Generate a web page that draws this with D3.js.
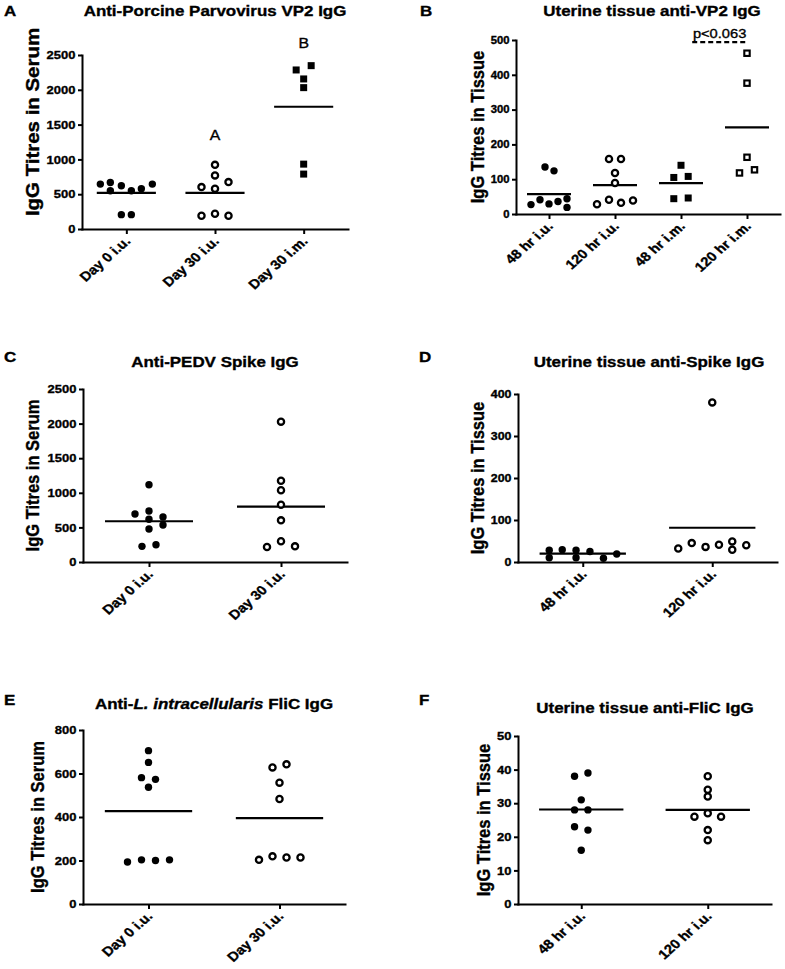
<!DOCTYPE html>
<html>
<head>
<meta charset="utf-8">
<script src="https://cdn.jsdelivr.net/npm/d3@7"></script>
<style>
  body { margin: 0; background: #fff; }
  text { font-family: "Liberation Sans", Arial, sans-serif; fill: #000; stroke: #000; stroke-width: 0.35px; }
</style>
</head>
<body>
<svg id="fig"></svg>
<script>
// ---- data ----
// slots = horizontal spread of each point around its column (in spread units)

const catsA = ["Day 0 i.u.", "Day 30 i.u.", "Day 30 i.m."];
const valsA = [
  [645, 669, 550, 621, 550, 578, 645, 206, 206],
  [922, 770, 602, 578, 674, 191, 220, 191],
  [2285, 2347, 2156, 2031, 932, 789]
];
const slotsA = [
  [-2.6, -1.6, -1.6, -0.5, 0.5, 1.5, 2.6, -0.5, 0.5],
  [0, 0, -1.35, 0, 1.35, -1.35, 0, 1.35],
  [-0.75, 0.75, 0, 0, 0, 0]
];
const ticksA = [0, 500, 1000, 1500, 2000, 2500];
const sigA = [{ cat: "Day 30 i.u.", label: "A", at: 1280 }, { cat: "Day 30 i.m.", label: "B", at: 2600 }];

const catsB = ["48 hr i.u.", "120 hr i.u.", "48 hr i.m.", "120 hr i.m."];
const valsB = [
  [135, 124, 27, 41, 29, 36, 44, 19],
  [158, 158, 118, 89, 28, 41, 32, 39],
  [140, 105, 108, 44, 46],
  [462, 376, 163, 118, 127]
];
const slotsB = [
  [-0.4, 0.5, -1.8, -0.9, 0, 0.9, 1.8, 1.8],
  [-0.6, 0.6, 0, 0, -1.8, -0.6, 0.6, 1.8],
  [0, -0.72, 0.72, -0.72, 0.72],
  [0, 0, 0, -0.75, 0.75]
];
const ticksB = [0, 100, 200, 300, 400, 500];
const pvalB = { from: "48 hr i.m.", to: "120 hr i.m.", label: "p<0.063", at: 494 };

const catsC = ["Day 0 i.u.", "Day 30 i.u."];
const valsC = [
  [1117, 694, 737, 617, 650, 535, 477, 226, 250],
  [2028, 1175, 1036, 829, 602, 299, 217, 226]
];
const slotsC = [
  [0, -1.4, 0, 0, 1.4, 1.4, 0, -0.7, 0.7],
  [0, 0, 0, 0, 0, 0, -1.4, 1.4]
];
const ticksC = [0, 500, 1000, 1500, 2000, 2500];

const catsD = ["48 hr i.u.", "120 hr i.u."];
const valsD = [
  [28, 29, 28, 25, 10, 10, 9, 19],
  [380, 32, 45, 36, 41, 49, 29, 40]
];
const slotsD = [
  [-3.35, -2.05, -0.67, 0.72, -3.35, -0.67, 2.07, 3.4],
  [0, -3.4, -2.05, -0.67, 0.67, 2.0, 2.0, 3.4]
];
const ticksD = [0, 100, 200, 300, 400];

const catsE = ["Day 0 i.u.", "Day 30 i.u."];
const valsE = [
  [705, 651, 581, 573, 537, 193, 203, 200, 203],
  [628, 642, 558, 483, 203, 219, 214, 214]
];
const slotsE = [
  [0, 0, -0.7, 0.7, 0, -2.1, -0.7, 0.7, 2.1],
  [-0.7, 0.7, 0, 0, -2.05, -0.7, 0.7, 2.1]
];
const ticksE = [0, 200, 400, 600, 800];

const catsF = ["48 hr i.u.", "120 hr i.u."];
const valsF = [
  [38, 39, 31, 28, 28, 23, 22, 16],
  [38, 34, 32, 26, 27, 26, 22, 19]
];
const slotsF = [
  [-0.67, 0.67, 0, -0.67, 0.67, -0.67, 0.67, 0],
  [0, 0, 0, -1.33, 0, 1.33, 0, 0]
];
const ticksF = [0, 10, 20, 30, 40, 50];

// ---- layout ----
const width = 785;
const height = 969;
const SX = 1.13;   // the source figure was scaled wider than tall

const svg = d3.select("#fig")
    .attr("width", width)
    .attr("height", height);

svg.append("rect").attr("width", width).attr("height", height).attr("fill", "#fff");

const panels = [
  { letter: "A", lx: 4, ly: 16, title: ["Anti-Porcine Parvovirus VP2 IgG"], tx: 215, ty: 16,
    x0: 82, x1: 348, yTop: 55, yBot: 229, cats: catsA, vals: valsA, slots: slotsA, ticks: ticksA,
    marks: ["dot", "ring", "square"], ylab: "IgG Titres in Serum", ylOff: 43, ylCy: 122, ylLong: 1.24,
    tickFont: 11.5, spread: 10 },
  { letter: "B", lx: 420, ly: 16, title: ["Uterine tissue anti-VP2 IgG"], tx: 652, ty: 16,
    x0: 516, x1: 780, yTop: 40, yBot: 214, cats: catsB, vals: valsB, slots: slotsB, ticks: ticksB,
    marks: ["dot", "ring", "square", "box"], ylab: "IgG Titres in Tissue", ylOff: 32,
    tickFont: 10, spread: 10 },
  { letter: "C", lx: 4, ly: 362, title: ["Anti-PEDV Spike IgG"], tx: 215, ty: 367,
    x0: 83, x1: 347, yTop: 389, yBot: 562, cats: catsC, vals: valsC, slots: slotsC, ticks: ticksC,
    marks: ["dot", "ring"], ylab: "IgG Titres in Serum", ylOff: 44, tickFont: 11.5, spread: 10 },
  { letter: "D", lx: 419, ly: 362, title: ["Uterine tissue anti-Spike IgG"], tx: 649, ty: 367,
    x0: 518, x1: 777, yTop: 394, yBot: 562, cats: catsD, vals: valsD, slots: slotsD, ticks: ticksD,
    marks: ["dot", "ring"], ylab: "IgG Titres in Tissue", ylOff: 34, tickFont: 11, spread: 10 },
  { letter: "E", lx: 4, ly: 705, title: ["Anti-", "L. intracellularis", " FliC IgG"], tx: 214, ty: 709,
    x0: 83, x1: 345, yTop: 730, yBot: 904, cats: catsE, vals: valsE, slots: slotsE, ticks: ticksE,
    marks: ["dot", "ring"], ylab: "IgG Titres in Serum", ylOff: 39, tickFont: 11.5, spread: 10 },
  { letter: "F", lx: 419, ly: 705, title: ["Uterine tissue anti-FliC IgG"], tx: 645, ty: 713,
    x0: 518, x1: 771, yTop: 736, yBot: 904, cats: catsF, vals: valsF, slots: slotsF, ticks: ticksF,
    marks: ["dot", "ring"], ylab: "IgG Titres in Tissue", ylOff: 28, tickFont: 11.5, spread: 10 }
];

// text is drawn at (x, y), widened by SX, then rotated
function tf(x, y, rot) {
  return `translate(${x},${y}) scale(${SX},1)` + (rot ? ` rotate(${rot})` : "");
}

function drawMark(g, type, cx, cy) {
  if (type === "dot") {
    g.append("circle").attr("cx", cx).attr("cy", cy).attr("r", 3.7).attr("fill", "#000");
  } else if (type === "ring") {
    g.append("circle").attr("cx", cx).attr("cy", cy).attr("r", 3.1)
      .attr("fill", "#fff").attr("stroke", "#000").attr("stroke-width", 2.3);
  } else if (type === "square") {
    g.append("rect").attr("x", cx - 3.5).attr("y", cy - 3.5).attr("width", 7).attr("height", 7).attr("fill", "#000");
  } else {
    g.append("rect").attr("x", cx - 2.7).attr("y", cy - 2.7).attr("width", 5.4).attr("height", 5.4)
      .attr("fill", "#fff").attr("stroke", "#000").attr("stroke-width", 2.1);
  }
}

panels.forEach(p => {
  const g = svg.append("g");
  const x = d3.scalePoint().domain(p.cats).range([p.x0, p.x1]).padding(0.5);
  const y = d3.scaleLinear().domain([0, d3.max(p.ticks)]).range([p.yBot, p.yTop]);
  p.x = x; p.y = y; p.g = g;

  // panel letter
  g.append("text").attr("transform", tf(p.lx, p.ly))
    .attr("font-size", 15).attr("font-weight", "bold").text(p.letter);

  // title (E has an italic part)
  const t = g.append("text").attr("transform", tf(p.tx, p.ty))
    .attr("text-anchor", "middle").attr("font-size", 15).attr("font-weight", "bold");
  p.title.forEach((s, i) => {
    t.append("tspan").attr("font-style", i === 1 ? "italic" : "normal").text(s);
  });

  // y axis
  const ya = g.append("g").attr("transform", `translate(${p.x0},0)`)
    .call(d3.axisLeft(y).tickValues(p.ticks).tickFormat(d3.format("d"))
      .tickSize(4).tickSizeOuter(0).tickPadding(2));
  ya.select(".domain").attr("stroke-width", 2).attr("stroke-linecap", "square");
  ya.selectAll(".tick line").attr("stroke-width", 2);
  ya.selectAll(".tick text")
    .attr("font-family", "Liberation Sans, Arial, sans-serif")
    .attr("font-size", p.tickFont).attr("font-weight", "bold").attr("fill", "#000")
    .attr("x", -6.5 / SX)
    .attr("transform", `scale(${SX},1)`);

  // x axis
  const xa = g.append("g").attr("transform", `translate(0,${p.yBot})`)
    .call(d3.axisBottom(x).tickSize(5).tickSizeOuter(0));
  xa.select(".domain").attr("stroke-width", 2).attr("stroke-linecap", "square");
  xa.selectAll(".tick line").attr("stroke-width", 2);
  xa.selectAll(".tick text").remove();

  g.selectAll(".xlab")
    .data(p.cats)
    .enter()
    .append("text")
    .attr("class", "xlab")
    .attr("text-anchor", "end")
    .attr("font-size", 13)
    .attr("font-weight", "bold")
    .attr("transform", d => tf(x(d) + 5, p.yBot + 13, -45))
    .text(d => d);

  // y axis title
  const cy = p.ylCy !== undefined ? p.ylCy : (p.yTop + p.yBot) / 2;
  const yt = g.append("text")
    .attr("transform", tf(p.x0 - p.ylOff, cy, -90))
    .attr("text-anchor", "middle")
    .attr("font-size", 16.5)
    .attr("font-weight", "bold")
    .text(p.ylab);
  if (p.ylLong) {
    yt.attr("textLength", yt.node().getComputedTextLength() * p.ylLong)
      .attr("lengthAdjust", "spacingAndGlyphs");
  }

  // group means
  const half = x.step() / 3;
  p.cats.forEach((c, i) => {
    const m = d3.mean(p.vals[i]);
    g.append("line")
      .attr("x1", x(c) - half).attr("x2", x(c) + half)
      .attr("y1", y(m)).attr("y2", y(m))
      .attr("stroke", "#000").attr("stroke-width", 2.2);
  });

  // points
  p.cats.forEach((c, i) => {
    p.vals[i].forEach((v, j) => {
      drawMark(g, p.marks[i], x(c) + p.slots[i][j] * p.spread, y(v));
    });
  });
});

// significance letters in panel A (plain weight)
const pA = panels[0];
sigA.forEach(s => {
  pA.g.append("text")
    .attr("transform", tf(pA.x(s.cat), pA.y(s.at)))
    .attr("text-anchor", "middle").attr("font-size", 14)
    .attr("stroke-width", 0)
    .text(s.label);
});

// dashed comparison bar in panel B
const pB = panels[1];
const bx1 = pB.x(pvalB.from) + pB.x.step() * 0.17;
const bx2 = pB.x(pvalB.to);
pB.g.append("line")
  .attr("x1", bx1).attr("x2", bx2)
  .attr("y1", pB.y(pvalB.at)).attr("y2", pB.y(pvalB.at))
  .attr("stroke", "#000").attr("stroke-width", 2.2).attr("stroke-dasharray", "5,3");
pB.g.append("text")
  .attr("transform", tf((bx1 + bx2) / 2, pB.y(pvalB.at) - 4))
  .attr("text-anchor", "middle").attr("font-size", 13)
  .attr("stroke-width", 0)
  .text(pvalB.label);
</script>
</body>
</html>
